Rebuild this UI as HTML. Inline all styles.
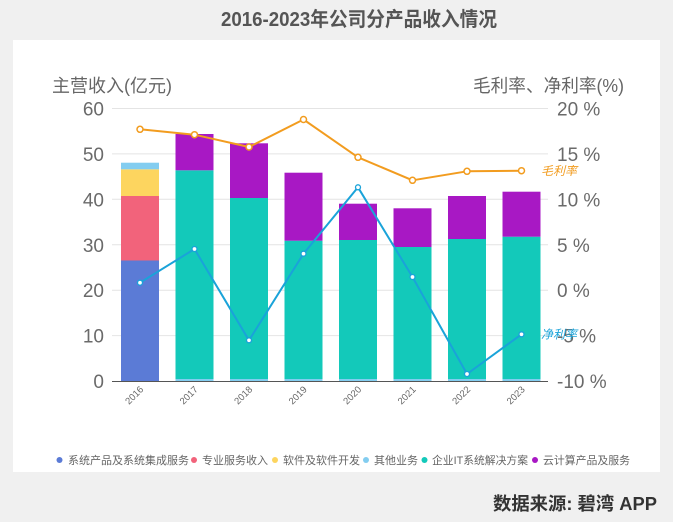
<!DOCTYPE html>
<html>
<head>
<meta charset="utf-8">
<style>
  html,body{margin:0;padding:0;background:#f0f0f0;}
  svg{display:block;}
  text{font-family:"Liberation Sans","Noto Sans CJK SC",sans-serif;}
</style>
</head>
<body>
<svg width="673" height="522" viewBox="0 0 673 522" xmlns="http://www.w3.org/2000/svg">
  <rect x="0" y="0" width="673" height="522" fill="#f0f0f0"/>
  <!-- title -->
  <text x="221" y="26" font-size="20" font-weight="bold" fill="#555" textLength="276" lengthAdjust="spacingAndGlyphs">2016-2023年公司分产品收入情况</text>
  <!-- panel -->
  <rect x="13" y="40" width="647" height="432" fill="#ffffff"/>

  <!-- axis titles -->
  <text x="52" y="92" font-size="18" fill="#666" textLength="120" lengthAdjust="spacingAndGlyphs">主营收入(亿元)</text>
  <text x="473" y="92" font-size="18" fill="#666" textLength="151" lengthAdjust="spacingAndGlyphs">毛利率、净利率(%)</text>

  <!-- gridlines -->
  <g stroke="#e4e4e4" stroke-width="1">
    <line x1="112" y1="108.5" x2="548" y2="108.5"/>
    <line x1="112" y1="153.9" x2="548" y2="153.9"/>
    <line x1="112" y1="199.3" x2="548" y2="199.3"/>
    <line x1="112" y1="244.8" x2="548" y2="244.8"/>
    <line x1="112" y1="290.2" x2="548" y2="290.2"/>
    <line x1="112" y1="335.6" x2="548" y2="335.6"/>
  </g>

  <!-- left tick labels -->
  <g font-size="19" fill="#6a6a6a" text-anchor="end">
    <text x="104" y="115.5">60</text>
    <text x="104" y="160.9">50</text>
    <text x="104" y="206.3">40</text>
    <text x="104" y="251.8">30</text>
    <text x="104" y="297.2">20</text>
    <text x="104" y="342.6">10</text>
    <text x="104" y="388">0</text>
  </g>

  <!-- right tick labels -->
  <g font-size="19" fill="#6a6a6a">
    <text x="557" y="115.5">20 %</text>
    <text x="557" y="160.9">15 %</text>
    <text x="557" y="206.3">10 %</text>
    <text x="557" y="251.8">5 %</text>
    <text x="557" y="297.2">0 %</text>
    <text x="557" y="342.6">-5 %</text>
    <text x="557" y="388">-10 %</text>
  </g>

  <!-- bars -->
  <!-- 2016 -->
  <rect x="121" y="260.5" width="38" height="120.5" fill="#5b7bd6"/>
  <rect x="121" y="196" width="38" height="64.5" fill="#f2637b"/>
  <rect x="121" y="169.3" width="38" height="26.7" fill="#fdd55f"/>
  <rect x="121" y="162.7" width="38" height="6.6" fill="#83cdf0"/>
  <!-- 2017 -->
  <rect x="175.5" y="170.3" width="38" height="208.7" fill="#13c9ba"/>
  <rect x="175.5" y="134" width="38" height="36.3" fill="#a818c4"/>
  <rect x="175.5" y="379" width="38" height="2" fill="#83cdf0"/>
  <!-- 2018 -->
  <rect x="230" y="198" width="38" height="181" fill="#13c9ba"/>
  <rect x="230" y="143.3" width="38" height="54.7" fill="#a818c4"/>
  <rect x="230" y="379" width="38" height="2" fill="#83cdf0"/>
  <!-- 2019 -->
  <rect x="284.5" y="240.7" width="38" height="138.3" fill="#13c9ba"/>
  <rect x="284.5" y="172.7" width="38" height="68" fill="#a818c4"/>
  <rect x="284.5" y="379" width="38" height="2" fill="#83cdf0"/>
  <!-- 2020 -->
  <rect x="339" y="240" width="38" height="139" fill="#13c9ba"/>
  <rect x="339" y="203.7" width="38" height="36.3" fill="#a818c4"/>
  <rect x="339" y="379" width="38" height="2" fill="#83cdf0"/>
  <!-- 2021 -->
  <rect x="393.5" y="247" width="38" height="132" fill="#13c9ba"/>
  <rect x="393.5" y="208.3" width="38" height="38.7" fill="#a818c4"/>
  <rect x="393.5" y="379" width="38" height="2" fill="#83cdf0"/>
  <!-- 2022 -->
  <rect x="448" y="239" width="38" height="140" fill="#13c9ba"/>
  <rect x="448" y="196" width="38" height="43" fill="#a818c4"/>
  <rect x="448" y="379" width="38" height="2" fill="#83cdf0"/>
  <!-- 2023 -->
  <rect x="502.5" y="236.7" width="38" height="142.3" fill="#13c9ba"/>
  <rect x="502.5" y="191.7" width="38" height="45" fill="#a818c4"/>
  <rect x="502.5" y="379" width="38" height="2" fill="#83cdf0"/>

  <!-- x axis line -->
  <line x1="112" y1="381.5" x2="548" y2="381.5" stroke="#555" stroke-width="1"/>

  <!-- x labels -->
  <g font-size="9.5" fill="#666" text-anchor="end">
    <text transform="translate(144,390) rotate(-45)">2016</text>
    <text transform="translate(198.5,390) rotate(-45)">2017</text>
    <text transform="translate(253,390) rotate(-45)">2018</text>
    <text transform="translate(307.5,390) rotate(-45)">2019</text>
    <text transform="translate(362,390) rotate(-45)">2020</text>
    <text transform="translate(416.5,390) rotate(-45)">2021</text>
    <text transform="translate(471,390) rotate(-45)">2022</text>
    <text transform="translate(525.5,390) rotate(-45)">2023</text>
  </g>

  <!-- gross margin line -->
  <polyline fill="none" stroke="#f29c1f" stroke-width="2" stroke-linejoin="round"
    points="140,129.3 194.5,134.7 249,147 303.5,119.5 358,157.3 412.5,180.3 467,171.3 521.5,170.7"/>
  <g fill="#fff" stroke="#f29c1f" stroke-width="1.5">
    <circle cx="140" cy="129.3" r="3"/>
    <circle cx="194.5" cy="134.7" r="3"/>
    <circle cx="249" cy="147" r="3"/>
    <circle cx="303.5" cy="119.5" r="3"/>
    <circle cx="358" cy="157.3" r="3"/>
    <circle cx="412.5" cy="180.3" r="3"/>
    <circle cx="467" cy="171.3" r="3"/>
    <circle cx="521.5" cy="170.7" r="3"/>
  </g>

  <!-- net margin line -->
  <polyline fill="none" stroke="#1aa3d9" stroke-width="2" stroke-linejoin="round"
    points="140,282.7 194.5,249 249,340.3 303.5,253.7 358,187.3 412.5,277 467,374 521.5,334.3"/>
  <g fill="#fff" stroke="#1aa3d9" stroke-width="1.3">
    <circle cx="140" cy="282.7" r="2.5"/>
    <circle cx="194.5" cy="249" r="2.5"/>
    <circle cx="249" cy="340.3" r="2.5"/>
    <circle cx="303.5" cy="253.7" r="2.5"/>
    <circle cx="358" cy="187.3" r="2.5"/>
    <circle cx="412.5" cy="277" r="2.5"/>
    <circle cx="467" cy="374" r="2.5"/>
    <circle cx="521.5" cy="334.3" r="2.5"/>
  </g>

  <!-- series labels -->
  <text x="541" y="175" font-size="12" font-style="italic" fill="#f29c1f" textLength="36" lengthAdjust="spacingAndGlyphs">毛利率</text>
  <text x="541" y="338.5" font-size="12" font-style="italic" fill="#1aa3d9" textLength="36" lengthAdjust="spacingAndGlyphs">净利率</text>

  <!-- legend -->
  <g font-size="11" fill="#666">
    <circle cx="59.5" cy="460" r="3" fill="#5b7bd6"/>
    <text x="68" y="464" textLength="121" lengthAdjust="spacingAndGlyphs">系统产品及系统集成服务</text>
    <circle cx="194" cy="460" r="3" fill="#f2637b"/>
    <text x="202" y="464" textLength="66" lengthAdjust="spacingAndGlyphs">专业服务收入</text>
    <circle cx="275" cy="460" r="3" fill="#fdd55f"/>
    <text x="283" y="464" textLength="77" lengthAdjust="spacingAndGlyphs">软件及软件开发</text>
    <circle cx="366" cy="460" r="3" fill="#83cdf0"/>
    <text x="374" y="464" textLength="44" lengthAdjust="spacingAndGlyphs">其他业务</text>
    <circle cx="424.5" cy="460" r="3" fill="#13c9ba"/>
    <text x="432" y="464" textLength="96" lengthAdjust="spacingAndGlyphs">企业IT系统解决方案</text>
    <circle cx="535" cy="460" r="3" fill="#a818c4"/>
    <text x="543" y="464" textLength="87" lengthAdjust="spacingAndGlyphs">云计算产品及服务</text>
  </g>

  <!-- source -->
  <text x="493" y="510" font-size="18" font-weight="bold" fill="#333" textLength="164" lengthAdjust="spacingAndGlyphs">数据来源: 碧湾 APP</text>
</svg>
</body>
</html>
